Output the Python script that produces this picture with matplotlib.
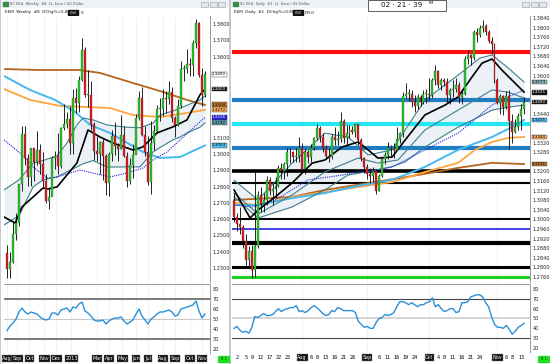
import matplotlib
matplotlib.use("Agg")
import matplotlib.pyplot as plt
from matplotlib.patches import Rectangle

W, H = 550, 364
GREEN = "#22cc22"
RED = "#e3161d"

# ---------------- weekly E6 (Aug 2012 .. Nov 2013) ----------------
wk_open = [1.2390, 1.2290, 1.2335, 1.2510, 1.2578, 1.2815, 1.3125, 1.2978, 1.2857, 1.3035,
           1.2950, 1.3025, 1.2940, 1.2835, 1.2712, 1.2738, 1.2977, 1.2986, 1.2924, 1.3160,
           1.3183, 1.3217, 1.3067, 1.3343, 1.3315, 1.3457, 1.3637, 1.3364, 1.3364, 1.3187,
           1.3020, 1.3000, 1.3077, 1.2988, 1.2819, 1.3000, 1.3110, 1.3050, 1.3030, 1.3115,
           1.2990, 1.2836, 1.2932, 1.2995, 1.3220, 1.3345, 1.3120, 1.3010, 1.2830, 1.3065,
           1.3140, 1.3280, 1.3280, 1.3345, 1.3340, 1.3380, 1.3220, 1.3180, 1.3295, 1.3525,
           1.3525, 1.3555, 1.3545, 1.3685, 1.3805, 1.3485, 1.3365]
wk_high = [1.2443, 1.2400, 1.2588, 1.2637, 1.2816, 1.3170, 1.3172, 1.3000, 1.3037, 1.3040,
           1.3140, 1.3060, 1.3010, 1.2880, 1.2800, 1.2990, 1.3018, 1.3127, 1.3165, 1.3308,
           1.3260, 1.3293, 1.3403, 1.3404, 1.3480, 1.3711, 1.3660, 1.3520, 1.3450, 1.3200,
           1.3110, 1.3080, 1.3090, 1.3000, 1.3010, 1.3145, 1.3200, 1.3070, 1.3243, 1.3175,
           1.3010, 1.2975, 1.3060, 1.3245, 1.3390, 1.3415, 1.3170, 1.3110, 1.3205, 1.3180,
           1.3300, 1.3345, 1.3400, 1.3385, 1.3450, 1.3410, 1.3235, 1.3340, 1.3570, 1.3545,
           1.3645, 1.3590, 1.3700, 1.3832, 1.3810, 1.3530, 1.3510]
wk_low = [1.2240, 1.2240, 1.2330, 1.2474, 1.2556, 1.2775, 1.2930, 1.2803, 1.2802, 1.2835,
          1.2930, 1.2880, 1.2800, 1.2700, 1.2661, 1.2740, 1.2910, 1.2880, 1.2915, 1.3150,
          1.3160, 1.3000, 1.3000, 1.3250, 1.3260, 1.3450, 1.3350, 1.3290, 1.3145, 1.2965,
          1.2955, 1.2880, 1.2840, 1.2750, 1.2745, 1.2960, 1.2995, 1.2955, 1.3030, 1.2980,
          1.2795, 1.2815, 1.2850, 1.3000, 1.3210, 1.3110, 1.2990, 1.2810, 1.2755, 1.3025,
          1.3130, 1.3205, 1.3235, 1.3250, 1.3310, 1.3200, 1.3105, 1.3175, 1.3285, 1.3450,
          1.3500, 1.3480, 1.3480, 1.3655, 1.3475, 1.3295, 1.3350]
wk_close = [1.2290, 1.2335, 1.2510, 1.2578, 1.2815, 1.3125, 1.2978, 1.2857, 1.3035, 1.2950,
            1.3025, 1.2940, 1.2835, 1.2712, 1.2738, 1.2977, 1.2986, 1.2924, 1.3160, 1.3183,
            1.3217, 1.3067, 1.3343, 1.3315, 1.3457, 1.3637, 1.3364, 1.3364, 1.3187, 1.3020,
            1.3000, 1.3077, 1.2988, 1.2819, 1.3000, 1.3110, 1.3050, 1.3030, 1.3115, 1.2990,
            1.2836, 1.2932, 1.2995, 1.3220, 1.3345, 1.3120, 1.3010, 1.2830, 1.3065, 1.3140,
            1.3280, 1.3280, 1.3345, 1.3340, 1.3380, 1.3220, 1.3180, 1.3295, 1.3525, 1.3525,
            1.3555, 1.3545, 1.3685, 1.3805, 1.3485, 1.3365, 1.3490]
wk_rsi = [38.5, 43, 46, 50, 57, 61, 57, 55, 57, 56, 55, 52, 50, 49, 50, 56, 56, 54, 59, 60,
          61, 57, 62, 61, 65, 67, 58, 56, 53, 49, 48, 48, 49, 45, 48, 50, 51, 51, 52, 48,
          45, 47, 49, 55, 60, 53, 49, 45, 50, 52, 55, 57, 57, 58, 59, 57, 53, 54, 60, 61,
          62, 63, 64, 68, 58, 51, 55]
wk_labels = ["Aug", "Sep", "Oct", "Nov", "Dec", "2013", "Mar", "Apr", "May", "Jun",
             "Jul", "Aug", "Sep", "Oct", "Nov"]
wk_label_pos = [0, 3.5, 7.5, 12.5, 16.5, 21.5, 30, 34, 38.5, 43, 47, 52, 56, 61, 65]

# weekly studies (bar index, price)
wk_brown_x = [-1, 11, 24, 31, 42, 52, 60, 66]
wk_brown = [1.3523, 1.3517, 1.3517, 1.3499, 1.3437, 1.3382, 1.3333, 1.3302]
wk_lblue_x = [-1, 7.7, 16, 22.7, 27.7, 34.3, 45.3, 51, 57.7, 66]
wk_lblue = [1.3480, 1.3394, 1.3333, 1.3259, 1.3179, 1.3130, 1.3013, 1.2976, 1.2982, 1.3053]
wk_orange_x = [-1, 7.7, 17.7, 26, 34.3, 42, 51, 60, 66]
wk_orange = [1.3400, 1.3333, 1.3296, 1.3290, 1.3283, 1.3240, 1.3228, 1.3253, 1.3272]
wk_black_x = [-1, 2.7, 5, 8.7, 12, 13.7, 16.7, 23.3, 27, 31, 35.3, 42, 45.3, 50, 55.3, 60, 64.3, 66]
wk_black = [1.2613, 1.2576, 1.2675, 1.2736, 1.2791, 1.2785, 1.2798, 1.2945, 1.3148, 1.3105,
            1.3068, 1.3025, 1.3044, 1.3130, 1.3167, 1.3210, 1.3363, 1.3400]
wk_band_x = [-1, 4, 8.7, 12, 16.7, 20, 23.3, 25.3, 28.7, 33.3, 40, 44.3, 48.7, 51, 55.3,
             57.7, 60, 64.3, 66]
wk_up = [1.2779, 1.2841, 1.2945, 1.2960, 1.2990, 1.3068, 1.3180, 1.3222, 1.3210, 1.3179,
         1.3165, 1.3162, 1.3190, 1.3240, 1.3265, 1.3283, 1.3300, 1.3333, 1.3357]
wk_dn = [1.2564, 1.2620, 1.2798, 1.2841, 1.2859, 1.2890, 1.2921, 1.2940, 1.2960, 1.2920,
         1.2921, 1.2921, 1.3013, 1.3040, 1.3087, 1.3105, 1.3130, 1.3165, 1.3192]
wk_dot_x = [-1, 4.3, 8.7, 13.3, 16.7, 24.3, 34.3, 40, 45.3, 48.7, 53.3, 57.7, 66]
wk_dot = [1.3087, 1.3007, 1.2921, 1.2853, 1.2859, 1.2902, 1.2859, 1.2884, 1.2914, 1.2964,
          1.3013, 1.3087, 1.3226]
# value tags on the weekly price scale: price, text, fill, text colour
wk_tags = [(1.3490, "1.3490", "white", "black"),
           (1.3400, "1.3400", "#111111", "white"),
           (1.3304, "1.3304", "#c07a30", "black"),
           (1.3272, "1.3272", "#ffb060", "black"),
           (1.3226, "1.3226", "#2020e0", "white"),
           (1.3192, "1.3192", "#5f9faf", "black"),
           (1.3053, "1.3053", "#55c0f5", "black")]

# ---------------- daily E6 (Jul 1 .. Nov 14 2013) ----------------
d_open = [1.3075, 1.3010, 1.2980, 1.2970, 1.2910, 1.2830, 1.2870, 1.2790, 1.2890, 1.3100,
          1.3065, 1.3080, 1.3165, 1.3120, 1.3125, 1.3140, 1.3215, 1.3200, 1.3230, 1.3280,
          1.3280, 1.3260, 1.3265, 1.3300, 1.3210, 1.3280, 1.3260, 1.3300, 1.3340, 1.3380,
          1.3345, 1.3300, 1.3265, 1.3260, 1.3345, 1.3330, 1.3335, 1.3410, 1.3340, 1.3360,
          1.3375, 1.3365, 1.3400, 1.3330, 1.3255, 1.3220, 1.3190, 1.3180, 1.3200, 1.3120,
          1.3180, 1.3250, 1.3270, 1.3300, 1.3300, 1.3290, 1.3335, 1.3360, 1.3515, 1.3525,
          1.3525, 1.3490, 1.3475, 1.3510, 1.3490, 1.3525, 1.3525, 1.3520, 1.3580, 1.3620,
          1.3560, 1.3580, 1.3575, 1.3520, 1.3540, 1.3545, 1.3560, 1.3510, 1.3525, 1.3670,
          1.3685, 1.3675, 1.3780, 1.3770, 1.3800, 1.3805, 1.3780, 1.3745, 1.3730, 1.3580,
          1.3485, 1.3515, 1.3470, 1.3515, 1.3410, 1.3365, 1.3385, 1.3430, 1.3460]
d_high = [1.3110, 1.3025, 1.3050, 1.2975, 1.2940, 1.2890, 1.2895, 1.3205, 1.3120, 1.3135,
          1.3110, 1.3180, 1.3175, 1.3150, 1.3175, 1.3225, 1.3235, 1.3240, 1.3300, 1.3300,
          1.3285, 1.3300, 1.3345, 1.3320, 1.3295, 1.3290, 1.3315, 1.3345, 1.3400, 1.3390,
          1.3360, 1.3310, 1.3300, 1.3355, 1.3385, 1.3370, 1.3450, 1.3420, 1.3395, 1.3395,
          1.3390, 1.3400, 1.3400, 1.3340, 1.3260, 1.3230, 1.3215, 1.3220, 1.3210, 1.3190,
          1.3260, 1.3280, 1.3325, 1.3310, 1.3320, 1.3385, 1.3365, 1.3530, 1.3570, 1.3545,
          1.3540, 1.3520, 1.3525, 1.3520, 1.3540, 1.3545, 1.3590, 1.3590, 1.3645, 1.3625,
          1.3590, 1.3590, 1.3590, 1.3550, 1.3580, 1.3590, 1.3575, 1.3545, 1.3680, 1.3705,
          1.3690, 1.3790, 1.3800, 1.3810, 1.3832, 1.3815, 1.3790, 1.3760, 1.3735, 1.3590,
          1.3525, 1.3520, 1.3535, 1.3540, 1.3440, 1.3420, 1.3445, 1.3480, 1.3510]
d_low = [1.2990, 1.2950, 1.2940, 1.2880, 1.2805, 1.2800, 1.2755, 1.2760, 1.2880, 1.3030,
         1.3030, 1.3060, 1.3100, 1.3060, 1.3090, 1.3135, 1.3170, 1.3170, 1.3180, 1.3235,
         1.3240, 1.3240, 1.3240, 1.3205, 1.3190, 1.3235, 1.3240, 1.3290, 1.3330, 1.3325,
         1.3280, 1.3250, 1.3240, 1.3250, 1.3310, 1.3310, 1.3325, 1.3320, 1.3310, 1.3340,
         1.3355, 1.3345, 1.3310, 1.3245, 1.3195, 1.3170, 1.3150, 1.3155, 1.3105, 1.3120,
         1.3175, 1.3230, 1.3250, 1.3265, 1.3255, 1.3290, 1.3320, 1.3345, 1.3505, 1.3495,
         1.3470, 1.3450, 1.3460, 1.3475, 1.3480, 1.3485, 1.3500, 1.3505, 1.3560, 1.3550,
         1.3540, 1.3555, 1.3485, 1.3480, 1.3510, 1.3530, 1.3485, 1.3480, 1.3520, 1.3650,
         1.3645, 1.3665, 1.3740, 1.3760, 1.3780, 1.3770, 1.3735, 1.3690, 1.3570, 1.3480,
         1.3440, 1.3435, 1.3460, 1.3295, 1.3320, 1.3360, 1.3375, 1.3375, 1.3440]
d_close = [1.3010, 1.2980, 1.2970, 1.2910, 1.2830, 1.2870, 1.2790, 1.2890, 1.3100, 1.3065,
           1.3080, 1.3165, 1.3120, 1.3125, 1.3140, 1.3215, 1.3200, 1.3230, 1.3280, 1.3280,
           1.3260, 1.3265, 1.3300, 1.3210, 1.3280, 1.3260, 1.3300, 1.3340, 1.3380, 1.3345,
           1.3300, 1.3265, 1.3260, 1.3345, 1.3330, 1.3335, 1.3410, 1.3340, 1.3360, 1.3375,
           1.3365, 1.3400, 1.3330, 1.3255, 1.3220, 1.3190, 1.3180, 1.3200, 1.3120, 1.3180,
           1.3250, 1.3270, 1.3300, 1.3300, 1.3290, 1.3335, 1.3360, 1.3515, 1.3525, 1.3525,
           1.3490, 1.3475, 1.3510, 1.3490, 1.3525, 1.3525, 1.3520, 1.3580, 1.3620, 1.3560,
           1.3580, 1.3575, 1.3520, 1.3540, 1.3545, 1.3560, 1.3510, 1.3525, 1.3670, 1.3685,
           1.3675, 1.3780, 1.3770, 1.3800, 1.3805, 1.3780, 1.3745, 1.3730, 1.3580, 1.3485,
           1.3515, 1.3470, 1.3515, 1.3410, 1.3365, 1.3385, 1.3430, 1.3460, 1.3490]
d_rsi = [40, 42, 38, 36, 37, 35, 41, 52, 51, 53, 55, 53, 53, 54, 57, 60, 57, 59, 60, 61,
         61, 63, 57, 58, 56, 58, 61, 63, 61, 58, 55, 53, 54, 58, 57, 61, 60, 58, 58, 58,
         58, 56, 47, 44, 41, 42, 40, 40, 46, 50, 51, 54, 53, 54, 56, 62, 67, 67, 66, 64,
         66, 64, 62, 64, 64, 66, 67, 71, 62, 64, 60, 57, 58, 60, 60, 56, 57, 66, 66, 67,
         72, 73, 74, 74, 72, 66, 62, 52, 44, 41, 41, 40, 43, 39, 34, 37, 41, 43, 45]
d_labels = ["2", "5", "9", "12", "17", "22", "25", "Aug", "6", "8", "13", "16", "21", "26",
            "Sep", "6", "11", "16", "19", "24", "Oct", "4", "8", "11", "16", "21", "24",
            "Nov", "6", "8", "13"]
d_label_pos = [1, 4, 6, 9, 12, 15, 18, 23, 26, 28, 31, 34, 37, 40, 45, 49, 52, 55, 58, 61,
               66, 69, 71, 74, 77, 80, 83, 89, 92, 94, 97]
MONTHS = {"Aug", "Sep", "Oct", "Nov", "Dec", "Mar", "Apr", "May", "Jun", "Jul", "2013"}

# daily studies (bar index, price)
d_black_x = [0, 5.4, 8.1, 13.9, 19.6, 26.4, 30.7, 36.5, 41.9, 45.3, 48.6, 53.4, 57.8, 64.5,
             71.3, 75.7, 80.4, 83.8, 87.2, 90.5, 94.9, 98]
d_black = [1.3123, 1.3006, 1.3039, 1.3094, 1.3152, 1.3235, 1.3248, 1.3302, 1.3323, 1.3290,
           1.3256, 1.3260, 1.3331, 1.3436, 1.3477, 1.3511, 1.3594, 1.3652, 1.3669, 1.3623,
           1.3569, 1.3531]
d_band_x = [0, 8.1, 19.6, 30.7, 38.5, 45.3, 53.4, 57.8, 64.5, 75.7, 83.1, 87.2, 92.6, 98]
d_up = [1.3164, 1.3081, 1.3235, 1.3360, 1.3344, 1.3269, 1.3290, 1.3373, 1.3498, 1.3602,
        1.3673, 1.3686, 1.3632, 1.3573]
d_dn = [1.3094, 1.3006, 1.3052, 1.3123, 1.3185, 1.3200, 1.3220, 1.3240, 1.3302, 1.3385,
        1.3430, 1.3456, 1.3468, 1.3477]
d_mid_x = [0, 8.1, 19.6, 30.7, 41.9, 48.6, 55.4, 64.5, 75.7, 87.2, 92.6, 98]
d_mid = [1.3110, 1.3023, 1.3102, 1.3198, 1.3256, 1.3235, 1.3248, 1.3373, 1.3456, 1.3540,
         1.3531, 1.3506]
d_dot_x = [0, 6.1, 13.9, 25, 36.5, 41.9, 48.6, 53.4, 64.5, 75.7, 87.2, 92.6, 98]
d_dot = [1.3060, 1.3052, 1.3081, 1.3165, 1.3185, 1.3198, 1.3206, 1.3219, 1.3290, 1.3360,
         1.3477, 1.3511, 1.3540]
d_lblue_x = [0, 8.1, 19.6, 30.7, 41.9, 53.4, 64.5, 75.7, 87.2, 93.9, 98]
d_lblue = [1.3060, 1.3060, 1.3089, 1.3110, 1.3140, 1.3165, 1.3219, 1.3290, 1.3344, 1.3385, 1.3415]
d_orange_x = [0, 8.1, 19.6, 30.7, 41.9, 53.4, 64.5, 75.7, 81.4, 87.2, 92.6, 98]
d_orange = [1.3069, 1.3060, 1.3094, 1.3114, 1.3135, 1.3156, 1.3198, 1.3236, 1.3290, 1.3323,
            1.3340, 1.3344]
d_brown_x = [0, 19.6, 30.7, 47.6, 64.5, 75.7, 87.2, 98]
d_brown = [1.3081, 1.3094, 1.3123, 1.3156, 1.3190, 1.3215, 1.3236, 1.3231]
d_tags = [(1.3573, "1.3573", "#8fb9c6", "black"),
          (1.3531, "1.3531", "#111111", "white"),
          (1.3490, "1.3490", "#111111", "white"),
          (1.3415, "1.3415", "#55c0f5", "black"),
          (1.3344, "1.3344", "#ffb060", "black"),
          (1.3231, "1.3231", "#c07a30", "black")]

# horizontal levels on the daily chart
lvl_price = [1.3700, 1.3500, 1.3400, 1.3300, 1.3200, 1.3150, 1.3000, 1.2960, 1.2900, 1.2800, 1.2760]
lvl_color = ["#ff1010", "#1f7ec2", "#26e6f2", "#1f7ec2", "black", "black", "black", "#1010e0",
             "black", "black", "#1ed01e"]
lvl_width = [3.0, 3.0, 3.0, 3.0, 2.6, 1.5, 1.5, 1.1, 3.0, 2.2, 2.2]


def px_box(x0, y0, x1, y1):
    return [x0 / W, 1 - y1 / H, (x1 - x0) / W, (y1 - y0) / H]


def draw_candles(ax, o, h, l, c, minh):
    xs = list(range(len(o)))
    bottoms = [min(a, b) for a, b in zip(o, c)]
    heights = [max(abs(b - a), minh) for a, b in zip(o, c)]
    colors = [GREEN if b >= a else RED for a, b in zip(o, c)]
    ax.vlines(xs, l, h, color="black", lw=0.6, zorder=6)
    ax.bar(xs, heights, bottom=bottoms, width=0.66, color=colors,
           edgecolor="#303030", lw=0.2, zorder=7)


def add_tags(ax, tags):
    for price, text, fc, tc in tags:
        ax.annotate(text, xy=(1.0, price), xycoords=("axes fraction", "data"),
                    xytext=(1.5, 0), textcoords="offset points", va="center", ha="left",
                    fontsize=3.0, color=tc, zorder=20, annotation_clip=False,
                    bbox=dict(boxstyle="square,pad=0.1", fc=fc, ec="#333333", lw=0.3))


def style_price(ax, ticks, tags, gap):
    ax.set_facecolor("white")
    for s in ["top", "left", "bottom"]:
        ax.spines[s].set_visible(False)
    ax.spines["right"].set_color("#9a9a9a")
    ax.spines["right"].set_linewidth(0.7)
    ax.yaxis.tick_right()
    # tick labels hidden behind a value tag are not shown
    free = [t for t in ticks if all(abs(t - p) > gap for p, *_ in tags)]
    ax.set_yticks(free)
    ax.set_yticklabels([f"{t:.4f}" for t in free])
    ax.tick_params(axis="y", labelsize=3.6, length=0, pad=2, labelcolor="#222222")
    ax.set_xticks([])


def style_rsi(ax, pos, labels, boxes_all):
    ax.set_facecolor("white")
    for s in ["left", "bottom"]:
        ax.spines[s].set_visible(False)
    ax.spines["top"].set_color("#9a9a9a")
    ax.spines["right"].set_color("#9a9a9a")
    ax.spines["top"].set_linewidth(0.7)
    ax.spines["right"].set_linewidth(0.7)
    ax.set_ylim(16, 85)
    ax.yaxis.tick_right()
    ax.set_yticks([20, 30, 40, 50, 60, 70, 80])
    ax.tick_params(axis="y", labelsize=3.6, length=0, pad=2, labelcolor="#222222")
    ax.set_xticks(pos)
    ax.set_xticklabels(labels)
    ax.tick_params(axis="x", labelsize=3.5, length=0, pad=2.2)
    for lbl in ax.get_xticklabels():
        if boxes_all or lbl.get_text() in MONTHS:
            lbl.set_color("white")
            lbl.set_bbox(dict(boxstyle="square,pad=0.12", fc="#111111", ec="#777777", lw=0.3))


fig = plt.figure(figsize=(W / 100, H / 100), dpi=100)

# window chrome, drawn in pixel coordinates
bg = fig.add_axes([0, 0, 1, 1])
bg.set_xlim(0, W)
bg.set_ylim(H, 0)
bg.axis("off")
bg.add_patch(Rectangle((0, 0), W, H, color="#b9c0ca"))
for x0, x1, title in [(1, 228, "SC E6#  Weekly  #8  LL  Euro / US Dollar"),
                      (231, 549, "SC E6#  Daily  #1  LL  Euro / US Dollar")]:
    bg.add_patch(Rectangle((x0, 0), x1 - x0, 8, color="#eef1f5"))
    bg.add_patch(Rectangle((x0, 8), x1 - x0, H - 9, color="white"))
    bg.add_patch(Rectangle((x0 + 2, 1.5), 4.5, 4.5, color="#3c8c4a"))
    bg.text(x0 + 9, 4.2, title, fontsize=2.6, color="#555555", va="center")
    for k in range(3):
        bg.add_patch(Rectangle((x1 - 27 + k * 8.5, 1.5), 7, 5, fc="#e4e7eb", ec="#9aa0a8", lw=0.4))
bg.add_patch(Rectangle((368, 0), 78, 10.5, fc="white", ec="#444444", lw=0.6))
bg.text(402, 5.3, "02 \u00b7 21 \u00b7 39", fontsize=5.2, ha="center", va="center", color="#111111")
bg.text(431, 3.2, "PM", fontsize=2.6, ha="center", va="center", color="#111111")

# headers
bg.text(5, 12.5, "E6M  Weekly  #8  DChg%=0.86", fontsize=3.0, va="center", color="#111111")
bg.add_patch(Rectangle((68, 9.8), 10, 5.6, color="#111111"))
bg.text(73, 12.5, "ChV", fontsize=2.5, color="white", ha="center", va="center")
bg.text(80.5, 12.5, "0", fontsize=3.0, va="center", color="#111111")
bg.text(234, 12.5, "E6M  Daily  #1  DChg%=0.86", fontsize=3.0, va="center", color="#111111")
bg.add_patch(Rectangle((293, 9.8), 10, 5.6, color="#111111"))
bg.text(298, 12.5, "ChV", fontsize=2.5, color="white", ha="center", va="center")
bg.text(305, 12.5, "DR:0", fontsize=3.0, va="center", color="#111111")

# status boxes bottom right
for x0 in (218, 538):
    bg.add_patch(Rectangle((x0, 355.5), 11, 6, color="#22dd22"))
    bg.text(x0 + 5.5, 358.6, "8 L", fontsize=2.8, ha="center", va="center", color="#003300")

# ---------------- weekly price pane ----------------
axw = fig.add_axes(px_box(4, 16, 210, 282))
style_price(axw, [1.23 + 0.01 * k for k in range(16)], wk_tags, 0.0035)
axw.set_xlim(-1, 67.67)
axw.set_ylim(1.2213, 1.38492)
for p in wk_label_pos:
    axw.axvline(p, color="#ececec", lw=0.5, zorder=0)
axw.fill_between(wk_band_x, wk_dn, wk_up, color="#dfe9ef", alpha=0.6, lw=0, zorder=1)
axw.plot(wk_brown_x, wk_brown, color="#b5651d", lw=1.3, zorder=3)
axw.plot(wk_orange_x, wk_orange, color="#ffa540", lw=1.3, zorder=3)
axw.plot(wk_lblue_x, wk_lblue, color="#45b8f0", lw=1.4, zorder=3)
axw.plot(wk_band_x, wk_up, color="#3f7f8f", lw=0.8, zorder=3)
axw.plot(wk_band_x, wk_dn, color="#3f7f8f", lw=0.8, zorder=3)
axw.plot(wk_dot_x, wk_dot, color="#2020e0", lw=0.8, ls=(0, (1, 1)), zorder=3)
axw.plot(wk_black_x, wk_black, color="black", lw=1.2, zorder=4)
draw_candles(axw, wk_open, wk_high, wk_low, wk_close, 0.0003)
add_tags(axw, wk_tags)

# ---------------- weekly RSI ----------------
axwr = fig.add_axes(px_box(4, 284, 210, 353))
style_rsi(axwr, wk_label_pos, wk_labels, True)
axwr.set_xlim(-1, 67.67)
for p in wk_label_pos:
    axwr.axvline(p, color="#ececec", lw=0.5, zorder=0)
axwr.axhline(70, color="#7a7a7a", lw=1.4)
axwr.axhline(30, color="#7a7a7a", lw=1.4)
axwr.axhline(50, color="#c8c8c8", lw=0.8)
axwr.plot(range(len(wk_rsi)), wk_rsi, color="#2a90d8", lw=1.0, zorder=5)

# ---------------- daily price pane ----------------
axd = fig.add_axes(px_box(232, 16, 530, 282))
style_price(axd, [1.2760 + 0.004 * k for k in range(28)], d_tags, 0.0021)
axd.set_xlim(-0.7, 100.0)
axd.set_ylim(1.27391, 1.38484)
for p in [23, 45, 66, 89]:
    axd.axvline(p, color="#ececec", lw=0.5, zorder=0)
for p, c, w in zip(lvl_price, lvl_color, lvl_width):
    axd.axhline(p, color=c, lw=w, zorder=2)
axd.fill_between(d_band_x, d_dn, d_up, color="#dfe9ef", alpha=0.6, lw=0, zorder=1)
axd.plot(d_brown_x, d_brown, color="#b5651d", lw=1.3, zorder=3)
axd.plot(d_orange_x, d_orange, color="#ffa540", lw=1.3, zorder=3)
axd.plot(d_lblue_x, d_lblue, color="#45b8f0", lw=1.4, zorder=3)
axd.plot(d_band_x, d_up, color="#3f7f8f", lw=0.8, zorder=3)
axd.plot(d_mid_x, d_mid, color="#3f7f8f", lw=0.8, zorder=3)
axd.plot(d_band_x, d_dn, color="#3f7f8f", lw=0.8, zorder=3)
axd.plot(d_dot_x, d_dot, color="#2020e0", lw=0.8, ls=(0, (1, 1)), zorder=3)
axd.plot(d_black_x, d_black, color="black", lw=1.2, zorder=4)
draw_candles(axd, d_open, d_high, d_low, d_close, 0.00012)
add_tags(axd, d_tags)

# ---------------- daily RSI ----------------
axdr = fig.add_axes(px_box(232, 284, 530, 352))
style_rsi(axdr, d_label_pos, d_labels, False)
axdr.set_xlim(-0.7, 100.0)
for p in [23, 45, 66, 89]:
    axdr.axvline(p, color="#ececec", lw=0.5, zorder=0)
axdr.axhline(70, color="#444444", lw=0.8)
axdr.axhline(30, color="#444444", lw=0.8)
axdr.axhline(50, color="#d4d4d4", lw=1.4)
axdr.plot(range(len(d_rsi)), d_rsi, color="#2a90d8", lw=1.0, zorder=5)

fig.savefig("out.png", dpi=100)
